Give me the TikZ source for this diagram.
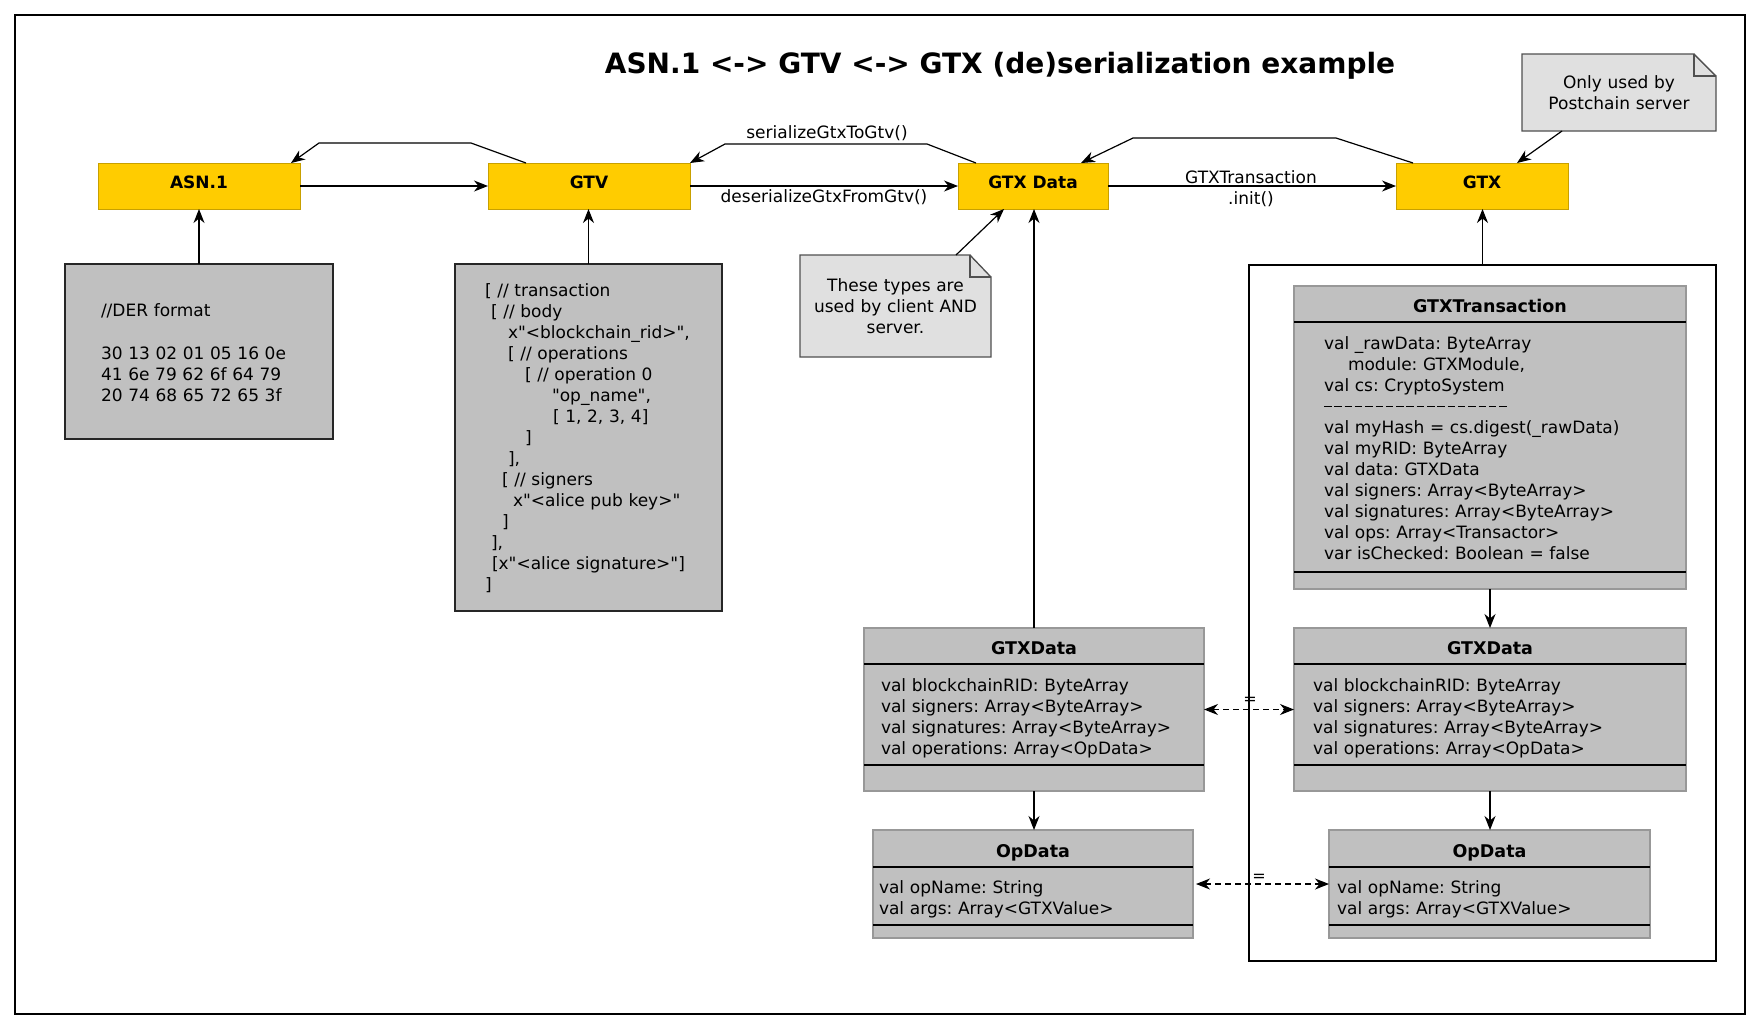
\documentclass[tikz,border=0pt]{standalone}
\usepackage{fontspec}
\newfontfamily\dvs{DejaVu Sans}
\usetikzlibrary{arrows.meta,calc}
\definecolor{yfill}{HTML}{FFCC00}
\definecolor{yborder}{HTML}{C8A000}
\definecolor{cfill}{HTML}{C0C0C0}
\definecolor{cborder}{HTML}{989898}
\definecolor{nfill}{HTML}{E0E0E0}
\definecolor{nborder}{HTML}{505050}
\newcommand\hy{\rule[5pt]{7.5pt}{1.3pt}\kern2.8pt}
\begin{document}
\frenchspacing
\begin{tikzpicture}[x=1pt,y=-1pt,
  every node/.style={inner sep=0pt, outer sep=0pt, font=\dvs\fontsize{17}{21}\selectfont\frenchspacing},
  ybox/.style={draw=yborder, fill=yfill, line width=1pt, minimum height=46pt, text height=12pt, text depth=8pt, font=\dvs\fontsize{17}{21}\selectfont\bfseries},
  codebox/.style={draw=black!85, fill=cfill, line width=1.2pt},
  cbox/.style={draw=cborder, fill=cfill, line width=1.2pt},
  cdiv/.style={draw=black, line width=1.5pt},
  notebox/.style={draw=nborder, fill=nfill, line width=1.2pt, line join=miter},
  hdr/.style={anchor=base, font=\dvs\fontsize{17.5}{21}\selectfont\bfseries},
  txt/.style={anchor=base west, align=left},
  ctxt/.style={anchor=base, align=center},
  arr/.style={draw=black, line width=1.2pt, -{Stealth[length=14pt,width=11pt,inset=4.5pt]}},
  darr/.style={draw=black, line width=1.2pt, dashed, dash pattern=on 6pt off 4pt, {Stealth[length=14pt,width=11pt,inset=4.5pt]}-{Stealth[length=14pt,width=11pt,inset=4.5pt]}},
  eqlab/.style={anchor=base, font=\dvs\fontsize{16}{18}\selectfont}
]
\useasboundingbox (0,0) rectangle (1761,1029);
\fill[white] (0,0) rectangle (1761,1029);
\draw[line width=1.2pt] (15,15) rectangle (1745,1014);

% title
\node[anchor=base, font=\dvs\fontsize{28}{34}\selectfont\bfseries] (title) at (1000,73) {ASN.1 <-> GTV <-> GTX (de)serialization example};

% yellow boxes
\node[ybox, minimum width=202pt] (asn) at (199,186) {ASN.1};
\node[ybox, minimum width=202pt] (gtv) at (589,186) {GTV};
\node[ybox, minimum width=150pt] (gtxd) at (1033,186) {GTX Data};
\node[ybox, minimum width=172pt] (gtx) at (1482,186) {GTX};

% DER box
\node[codebox, minimum width=268pt, minimum height=175pt] (der) at (199,351.5) {};
\node[txt, text width=220pt] (dertxt) at (101,316) {//DER format\\[22pt]
30 13 02 01 05 16 0e\\
41 6e 79 62 6f 64 79\\
20 74 68 65 72 65 3f};

% GTV code box
\node[codebox, minimum width=267pt, minimum height=347pt] (code) at (588.5,437.5) {};
\node[txt, text width=230pt] (codetxt) at (485,296) {\relax[ // transaction\\
\hspace*{6pt}[ // body\\
\hspace*{23pt}x"<blockchain\_rid>",\\
\hspace*{23pt}[ // operations\\
\hspace*{40pt}[ // operation 0\\
\hspace*{67pt}"op\_name",\\
\hspace*{68pt}[ 1, 2, 3, 4]\\
\hspace*{40pt}]\\
\hspace*{23pt}],\\
\hspace*{17pt}[ // signers\\
\hspace*{28pt}x"<alice pub key>"\\
\hspace*{17pt}]\\
\hspace*{6pt}],\\
\hspace*{7pt}[x"<alice signature>"]\\
\relax]};

% notes
\node[minimum width=191pt, minimum height=102pt] (n1) at (895.5,306) {};
\draw[notebox] (n1.north west) -- ([xshift=-21pt]n1.north east) -- ([yshift=-22pt]n1.north east) -- (n1.south east) -- (n1.south west) -- cycle;
\fill[white] ([xshift=-21pt]n1.north east) -- ([yshift=-22pt]n1.north east) -- (n1.north east) -- cycle;
\draw[notebox, fill=none] ([xshift=-21pt]n1.north east) |- ([yshift=-22pt]n1.north east);
\draw[notebox, fill=none] ([xshift=-21pt]n1.north east) -- ([yshift=-22pt]n1.north east);
\node[ctxt, text width=185pt] (n1txt) at (895.5,291) {These types are\\ used by client AND\\ server.};

\node[minimum width=194pt, minimum height=77pt] (n2) at (1619,92.5) {};
\draw[notebox] (n2.north west) -- ([xshift=-22pt]n2.north east) -- ([yshift=-22pt]n2.north east) -- (n2.south east) -- (n2.south west) -- cycle;
\fill[white] ([xshift=-22pt]n2.north east) -- ([yshift=-22pt]n2.north east) -- (n2.north east) -- cycle;
\draw[notebox, fill=none] ([xshift=-22pt]n2.north east) |- ([yshift=-22pt]n2.north east);
\draw[notebox, fill=none] ([xshift=-22pt]n2.north east) -- ([yshift=-22pt]n2.north east);
\node[ctxt, text width=190pt] (n2txt) at (1619,88) {Only used by\\ Postchain server};

% big white box
\node[draw=black, fill=white, line width=1.2pt, minimum width=467pt, minimum height=696pt] (big) at (1482.5,613) {};

% GTXTransaction class
\node[cbox, minimum width=392pt, minimum height=303pt] (gtr) at (1490,437.5) {};
\draw[cdiv] ([yshift=-36pt]gtr.north west) -- ([yshift=-36pt]gtr.north east);
\draw[cdiv] ([yshift=17pt]gtr.south west) -- ([yshift=17pt]gtr.south east);
\node[hdr] (gtrh) at (1490,312) {GTXTransaction};
\node[txt, text width=370pt] (gtrtxt) at (1324,349) {val \_rawData: ByteArray\\
\hspace*{24pt}module: GTXModule,\\
val cs: CryptoSystem\\
\hy\hy\hy\hy\hy\hy\hy\hy\hy\hy\hy\hy\hy\hy\hy\hy\hy\hy\\
val myHash = cs.digest(\_rawData)\\
val myRID: ByteArray\\
val data: GTXData\\
val signers: Array<ByteArray>\\
val signatures: Array<ByteArray>\\
val ops: Array<Transactor>\\
var isChecked: Boolean = false};

% GTXData left
\node[cbox, minimum width=340pt, minimum height=163pt] (gL) at (1034,709.5) {};
\draw[cdiv] ([yshift=-36pt]gL.north west) -- ([yshift=-36pt]gL.north east);
\draw[cdiv] ([yshift=26pt]gL.south west) -- ([yshift=26pt]gL.south east);
\node[hdr] (gLh) at (1034,654) {GTXData};
\node[txt, text width=320pt] (gLtxt) at (881,691) {val blockchainRID: ByteArray\\
val signers: Array<ByteArray>\\
val signatures: Array<ByteArray>\\
val operations: Array<OpData>};

% GTXData right
\node[cbox, minimum width=392pt, minimum height=163pt] (gR) at (1490,709.5) {};
\draw[cdiv] ([yshift=-36pt]gR.north west) -- ([yshift=-36pt]gR.north east);
\draw[cdiv] ([yshift=26pt]gR.south west) -- ([yshift=26pt]gR.south east);
\node[hdr] (gRh) at (1490,654) {GTXData};
\node[txt, text width=360pt] (gRtxt) at (1313,691) {val blockchainRID: ByteArray\\
val signers: Array<ByteArray>\\
val signatures: Array<ByteArray>\\
val operations: Array<OpData>};

% OpData left
\node[cbox, minimum width=320pt, minimum height=108pt] (oL) at (1033,884) {};
\draw[cdiv] ([yshift=-37pt]oL.north west) -- ([yshift=-37pt]oL.north east);
\draw[cdiv] ([yshift=13pt]oL.south west) -- ([yshift=13pt]oL.south east);
\node[hdr] (oLh) at (1033,857) {OpData};
\node[txt, text width=300pt] (oLtxt) at (879,893) {val opName: String\\
val args: Array<GTXValue>};

% OpData right
\node[cbox, minimum width=321pt, minimum height=108pt] (oR) at (1489.5,884) {};
\draw[cdiv] ([yshift=-37pt]oR.north west) -- ([yshift=-37pt]oR.north east);
\draw[cdiv] ([yshift=13pt]oR.south west) -- ([yshift=13pt]oR.south east);
\node[hdr] (oRh) at (1489.5,857) {OpData};
\node[txt, text width=300pt] (oRtxt) at (1337,893) {val opName: String\\
val args: Array<GTXValue>};

% connectors top row
\draw[arr] (asn.east) -- (gtv.west);
\draw[arr] ([xshift=38pt]gtv.north west) -- (471,143) -- (319,143) -- ([xshift=-9pt]asn.north east);
\draw[arr] (gtv.east) -- (gtxd.west);
\node[anchor=base] (deslab) at (824,202) {deserializeGtxFromGtv()};
\draw[arr] ([xshift=18pt]gtxd.north west) -- (927,144) -- (725,144) -- (gtv.north east);
\node[anchor=base] (serlab) at (827,138) {serializeGtxToGtv()};
\draw[arr] (gtxd.east) -- (gtx.west);
\node[ctxt, text width=200pt] (initlab) at (1251,183) {GTXTransaction\\ .init()};
\draw[arr] ([xshift=17pt]gtx.north west) -- (1336,138) -- (1133,138) -- ([xshift=-27pt]gtxd.north east);
\draw[arr] ([xshift=40pt]n2.south west) -- ([xshift=-51pt]gtx.north east);
\draw[arr] ([xshift=156pt]n1.north west) -- ([xshift=46pt]gtxd.south west);

% vertical connectors
\draw[arr] (der.north) -- (asn.south);
\draw[arr] (code.north) -- (code.north |- gtv.south);
\draw[arr] (gL.north) -- (gL.north |- gtxd.south);
\draw[arr] (big.north) -- (big.north |- gtx.south);
\draw[arr] (gtr.south) -- (gR.north);
\draw[arr] (gR.south) -- (gR.south |- oR.north);
\draw[arr] (gL.south) -- (gL.south |- oL.north);

% equality links
\draw[darr] (gL.east) -- (gR.west);
\node[eqlab] (eq1) at (1250,704) {=};
\draw[darr] ([xshift=3pt]oL.east) -- (oR.west);
\node[eqlab] (eq2) at (1259,881) {=};
\end{tikzpicture}
\end{document}
